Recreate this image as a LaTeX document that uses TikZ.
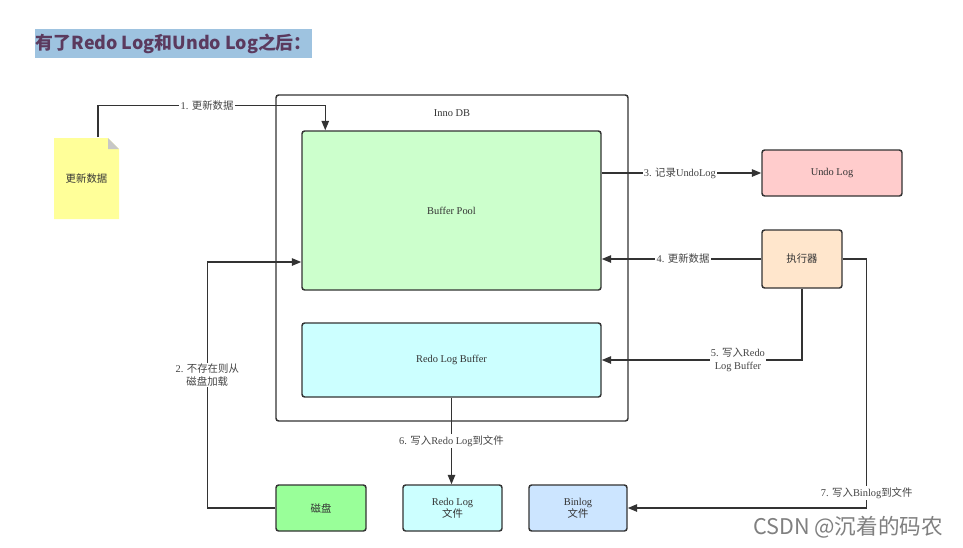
\documentclass[tikz,border=0pt]{standalone}
\usepackage{fontspec}
\setmainfont{Liberation Serif}
\newfontfamily\cjk{Noto Sans CJK SC}
\usetikzlibrary{arrows.meta,calc}
\definecolor{linec}{HTML}{333333}
\definecolor{bpfill}{HTML}{CCFFCC}
\definecolor{cyanfill}{HTML}{CCFFFF}
\definecolor{undofill}{HTML}{FFCCCC}
\definecolor{execfill}{HTML}{FFE6CC}
\definecolor{diskfill}{HTML}{99FF99}
\definecolor{binfill}{HTML}{CCE5FF}
\definecolor{notefill}{HTML}{FFFF99}
\definecolor{titlebg}{HTML}{9EC3E0}
\definecolor{titlefg}{HTML}{5B3A5E}
\definecolor{lblc}{HTML}{444444}
\tikzset{
  box/.style={draw=linec, line width=1.1pt, rounded corners=2pt, font=\fontsize{7.8}{9.3}\selectfont, text=linec, align=center, inner sep=0pt},
  arr/.style={draw=linec, line width=1.1pt, -{Triangle[length=7pt,width=5.5pt]}},
  ln/.style={draw=linec, line width=1.1pt},
  lbl/.style={fill=white, font=\fontsize{7.8}{9.3}\selectfont, text=lblc, align=center, inner sep=1pt}
}
\begin{document}
\begin{tikzpicture}[x=0.75pt,y=-0.75pt]
\path[use as bounding box, fill=white] (0,0) rectangle (963,547);
% title
\node[fill=titlebg, text=titlefg, font=\cjk\bfseries\fontsize{13.4}{15}\selectfont, minimum height=17.25pt, minimum width=207pt, inner xsep=0.5pt, anchor=west] (title) at (35,43.5) {有了Redo Log和Undo Log之后：};
% note
\fill[notefill] (54,138) -- (108,138) -- (119,149) -- (119,219) -- (54,219) -- cycle;
\fill[black!22] (108,138) -- (119,149) -- (108,149) -- cycle;
\node[font=\cjk\fontsize{7.8}{9.3}\selectfont, text=linec, minimum width=48.75pt, minimum height=60.75pt, inner sep=0pt] (note) at (86.5,178.5) {\raisebox{-2pt}{更新数据}};
% containers
\node[box, minimum width=264pt, minimum height=244.5pt] (inno) at (452,258) {};
\node[font=\fontsize{7.8}{9.3}\selectfont, text=linec] (innolbl) at (452,113) {Inno DB};
\node[box, fill=bpfill, minimum width=224.25pt, minimum height=119.25pt] (bp) at (451.5,210.5) {Buffer Pool};
\node[box, fill=cyanfill, minimum width=224.25pt, minimum height=55.5pt] (rlb) at (451.5,360) {Redo Log Buffer};
\node[box, fill=undofill, minimum width=105pt, minimum height=34.5pt] (undo) at (832,173) {Undo Log};
\node[box, fill=execfill, minimum width=60pt, minimum height=43.5pt] (exec) at (802,259) {\cjk 执行器};
\node[box, fill=diskfill, minimum width=67.5pt, minimum height=34.5pt] (disk) at (321,508) {\cjk 磁盘};
\node[box, fill=cyanfill, minimum width=74.25pt, minimum height=34.5pt] (rlf) at (452.5,508) {Redo Log\\{\cjk 文件}};
\node[box, fill=binfill, minimum width=73.5pt, minimum height=34.5pt] (binf) at (578,508) {Binlog\\{\cjk 文件}};
% connectors
\draw[ln] ($(note.north)+(11.5,-0.5)$) |- node[lbl,pos=0.74]{1. {\cjk 更新数据}} ($(bp.north west)+(24,-25)$);
\draw[arr] ($(bp.north west)+(24,-25)$) -- ($(bp.north west)+(24,0)$);
\draw[arr] (disk.west) -- ++(-68,0) |- node[lbl,pos=0.27]{2. {\cjk 不存在则从}\\{\cjk 磁盘加载}} ($(bp.west)+(0,51.5)$);
\draw[arr] (bp.east |- undo.west) -- node[lbl,pos=0.49]{3. {\cjk 记录}UndoLog} (undo.west);
\draw[arr] (exec.west) -- node[lbl,pos=0.49]{4. {\cjk 更新数据}} (bp.east |- exec.west);
\draw[arr] (exec.south) |- node[lbl,pos=0.66]{5. {\cjk 写入}Redo\\Log Buffer} (rlb.east);
\draw[arr] (rlb.south) -- node[lbl,pos=0.5]{6. {\cjk 写入}Redo Log{\cjk 到文件}} (rlb.south |- rlf.north);
\draw[arr] (exec.east) -- ++(24,0) |- node[lbl,pos=0.47]{7. {\cjk 写入}Binlog{\cjk 到文件}} (binf.east);
% watermark
\node[font=\cjk\fontsize{16.2}{18}\selectfont, text=black!50] (wm) at (848,527) {CSDN @沉着的码农};
\end{tikzpicture}
\end{document}
